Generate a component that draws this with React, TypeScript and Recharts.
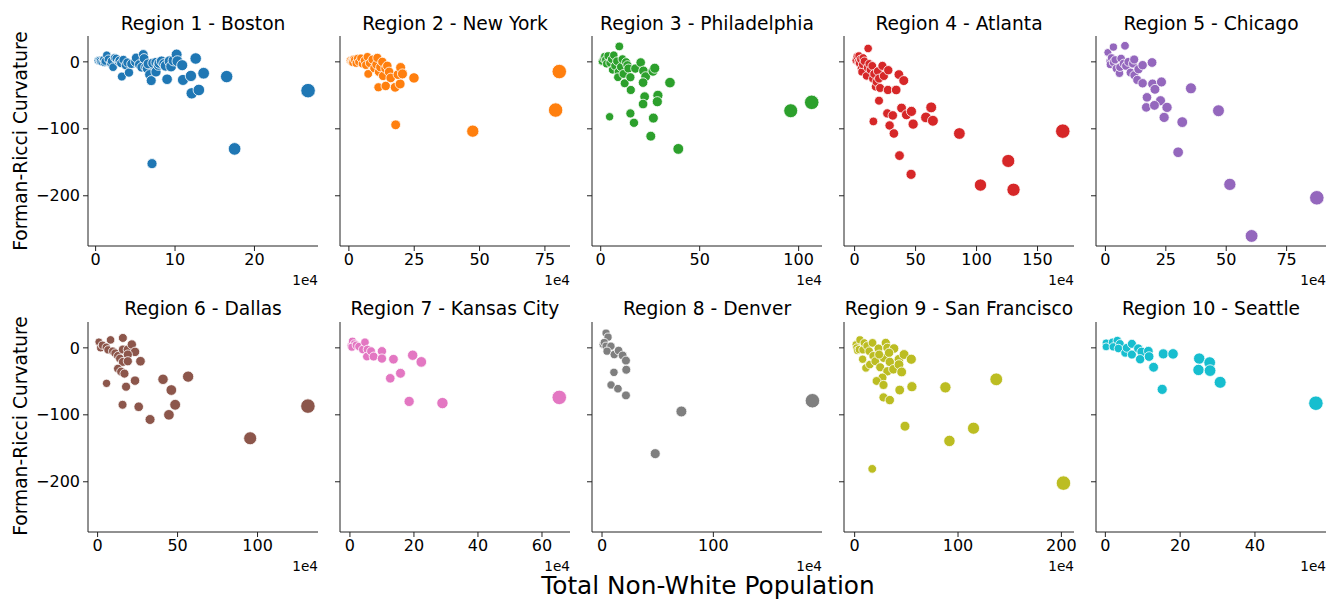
import React from "react";
import { ScatterChart, Scatter, XAxis, YAxis, ZAxis } from "recharts";

const regionNames = [
  "Region 1 - Boston",
  "Region 2 - New York",
  "Region 3 - Philadelphia",
  "Region 4 - Atlanta",
  "Region 5 - Chicago",
  "Region 6 - Dallas",
  "Region 7 - Kansas City",
  "Region 8 - Denver",
  "Region 9 - San Francisco",
  "Region 10 - Seattle",
];

const colors = ["#1f77b4", "#ff7f0e", "#2ca02c", "#d62728", "#9467bd", "#8c564b", "#e377c2", "#7f7f7f", "#bcbd22", "#17becf"];

// [population / 1e4, curvature]
const boston: [number, number][] = [
  [0.3, 2], [0.5, 2.5], [0.6, 1], [0.8, 0], [1.0, 3], [1.1, -1], [1.2, 1], [1.4, 10], [1.6, 4], [1.9, -2],
  [2.0, 1], [2.2, -8], [2.4, 6], [2.6, 5], [2.9, 0], [3.0, 2], [3.2, -2], [3.3, -22], [3.5, 3], [3.8, -5],
  [4.0, -1], [4.2, -16], [4.5, -3], [5.0, 0], [5.1, 6], [5.5, -4], [5.8, -8], [6.0, 11], [6.1, 5], [6.3, -8],
  [6.5, -10], [6.6, -3], [6.8, -19], [7.0, -28], [7.2, -2], [7.6, -1], [7.6, -15], [7.9, -5], [8.0, -2], [8.3, 1],
  [8.6, -3], [8.8, -6], [9.0, -26], [9.3, 1], [9.5, -7], [9.8, 2], [10.2, 11], [10.3, 1], [10.9, -5], [11.0, -27],
  [12.0, -21], [12.6, 5], [12.1, -47], [13.0, -42], [13.6, -17], [16.5, -22], [26.75, -43], [7.1, -152], [17.5, -130],
];

const newYork: [number, number][] = [
  [0.5, 2], [1.0, 1], [1.4, 1.5], [1.8, 4], [1.5, -1], [2.2, 3], [2.8, -2], [3.3, 5], [3.8, 0], [4.6, 5.5],
  [5.2, -3], [6.0, 2], [6.5, -5], [7.1, 7.5], [7.4, -18], [8.0, -2], [9.0, 3.5], [9.7, -9.5], [10.5, -4], [10.9, 6],
  [11.5, -15], [12.0, -8], [12.8, 0], [13.1, -21], [14.0, -10], [14.7, -6], [15.4, -15], [16.0, -24], [11.3, -38], [14.1, -36],
  [17.7, -38], [19.6, -33], [18.8, -19], [19.8, -8.5], [20.5, -18], [24.9, -24], [17.9, -94], [47.4, -103.5], [80.5, -14.5], [79.1, -72],
];

const philadelphia: [number, number][] = [
  [0.7, 0.7], [1.5, 5], [2.0, 8], [2.5, 3], [3.7, 9], [3.0, -3], [4.7, -1.5], [5.5, 4], [6.0, -12], [6.6, 10],
  [7.2, -6], [8.2, 1], [9.0, -15], [9.4, 23], [8.7, -23], [10.2, -7.5], [11.0, 4], [11.5, -18], [12.8, -0.5], [12.1, -32],
  [13.5, -5], [14.0, -10], [15.0, -23], [17.5, -10], [20.2, -1], [21.6, -13.5], [22.7, -22], [21.4, -31], [26.4, -14], [27.3, -9.5],
  [35.0, -31], [15.2, -42], [22.2, -52], [28.9, -50], [21.4, -63], [28.6, -59.5], [4.5, -82], [15.0, -77], [16.8, -91], [26.6, -84],
  [25.3, -111], [39.2, -130], [96.0, -73], [106.6, -60.5],
];

const atlanta: [number, number][] = [
  [1.1, 2], [2.0, 8], [3.0, 0], [3.5, 9], [4.0, -2], [5.0, 4], [5.5, -10], [6.0, -15], [6.5, -4], [7.0, 6],
  [8.0, 1], [9.8, -21], [10.6, -8.5], [11.1, 20], [12.0, -3], [13.0, -12], [14.5, -6], [15.0, -25], [16.0, -18], [17.3, -37],
  [18.0, -30], [19.1, -14], [20.0, -25], [20.9, -39], [22.8, -6], [24.0, -21], [27.6, -12.5], [27.3, -42], [34.1, -42], [36.3, -19],
  [40.3, -28], [20.0, -58], [38.5, -69], [26.8, -77], [31.3, -80], [42.5, -79], [46.6, -74], [28.7, -95], [15.4, -89], [48.0, -93],
  [32.2, -107], [58.5, -83], [62.8, -68], [64.2, -88], [36.8, -140], [46.3, -168], [85.9, -107], [103.2, -184], [126.0, -148], [130.3, -191],
  [170.7, -103.5],
];

const chicago: [number, number][] = [
  [1.0, 14], [3.3, 22], [8.1, 24], [1.9, 1], [2.0, -4], [2.5, 6], [3.3, -0.5], [4.0, 3], [4.5, -10], [5.8, -17],
  [6.0, -8], [6.5, 5], [7.5, -2.5], [8.5, -6], [9.5, 0], [10.4, -16], [11.4, -2.5], [11.9, 3.5], [12.0, -20], [13.7, -11],
  [15.4, -5], [19.3, -1], [13.2, -27], [15.4, -32], [19.5, -33], [23.2, -30], [20.5, -41], [17.2, -53], [22.8, -58], [16.9, -68],
  [20.3, -65], [25.5, -68], [24.3, -83], [31.8, -90], [35.4, -39.5], [46.8, -73], [30.1, -135], [51.5, -183], [87.5, -203], [60.5, -260],
];

const dallas: [number, number][] = [
  [0.8, 8.9], [1.9, 0], [3.0, 4], [5.4, 1], [6.5, -3], [8.1, 11.9], [9.5, -5], [11.0, -8], [12.7, -12], [14.0, -16],
  [15.8, 14.8], [15.8, -2.5], [18.9, -2.5], [21.4, 5], [23.4, -6], [18.9, -10], [15.8, -21], [18.9, -20], [26.8, -20], [12.7, -31],
  [14.7, -35.5], [16.8, -38.5], [23.4, -49], [5.6, -53], [17.8, -58], [15.6, -85], [25.7, -88], [32.8, -107], [40.9, -47], [46.1, -63],
  [48.5, -85], [44.6, -100], [56.6, -43], [95.4, -135], [131.5, -87],
];

const kansasCity: [number, number][] = [
  [0.3, 3], [0.8, 10], [1.4, 6], [0.6, 1], [2.0, 4], [2.8, 2], [4.0, -2.5], [4.7, 8.4], [5.5, -2.5], [5.3, -13],
  [6.6, -5], [7.4, -13], [10.0, -5], [10.0, -16], [13.6, -17], [19.6, -11], [22.3, -21], [15.8, -38], [12.6, -45.5], [18.5, -80],
  [28.9, -82.5], [65.4, -74],
];

const denver: [number, number][] = [
  [3.6, 22], [5.4, 16], [0.9, 5], [2.0, 8], [3.6, 2.5], [8.0, 2.5], [4.5, -5], [11.0, -10], [14.9, -4], [18.5, -11.4],
  [21.5, -19], [21.8, -32.7], [10.7, -36.6], [8.1, -55.4], [14.3, -61], [21.5, -71], [71.3, -95], [47.8, -158], [189.0, -79],
];

const sanFrancisco: [number, number][] = [
  [1.3, 5], [2.0, 0], [5.1, 12], [2.9, -4], [4.5, -2.5], [8.0, -3], [9.3, 7.4], [12.0, 3], [17.3, 7.4], [14.1, -5],
  [7.7, -17], [10.9, -30], [14.7, -25], [18.0, -12], [20.0, -20], [23.1, -1], [28.0, -15], [30.1, 7.4], [23.7, -10], [31.7, 0],
  [38.1, -1], [33.3, -7.4], [34.0, -21], [24.7, -29], [31.7, -35], [37.5, -32], [42.9, -17], [42.9, -25], [47.8, -10], [45.5, -36],
  [54.8, -17], [26.9, -44.5], [21.2, -49.5], [27.9, -55.4], [43.6, -63], [55.4, -58], [27.9, -74], [34.0, -78], [87.8, -59], [137.0, -47],
  [48.7, -117], [115.0, -120], [91.7, -139], [17.0, -180.7], [202.0, -202],
];

const seattle: [number, number][] = [
  [0.2, 7.4], [0.2, 1.5], [1.9, 8.4], [3.2, 10.9], [2.1, 1.5], [3.9, 6], [3.5, -1], [5.3, -7.4], [5.7, 0], [7.1, 6],
  [7.1, -10], [8.8, -1], [9.7, -6], [9.3, -17], [11.5, -5], [11.7, -13], [12.9, -29], [15.5, -9], [18.1, -9], [15.2, -62],
  [25.1, -16], [24.9, -33], [27.9, -22], [28.0, -34], [30.7, -51.5], [56.3, -82.7],
];

const regions = [boston, newYork, philadelphia, atlanta, chicago, dallas, kansasCity, denver, sanFrancisco, seattle];

const xDomains: [number, number][] = [
  [-0.96, 28.0], [-3.4, 84.6], [-4.4, 111.8], [-8.7, 179.9], [-3.9, 91.3],
  [-6.0, 137.8], [-3.1, 68.75], [-9.0, 197.6], [-10.3, 212.2], [-2.5, 59.0],
];
const xTicks = [
  [0, 10, 20], [0, 25, 50, 75], [0, 50, 100], [0, 50, 100, 150], [0, 25, 50, 75],
  [0, 50, 100], [0, 20, 40, 60], [0, 100], [0, 100, 200], [0, 20, 40],
];
const yTicks = [-200, -100, 0];
const yDomain: [number, number] = [-275, 38.6];

const FONT = "DejaVu Sans";
const COL_LEFT = [88, 340, 592, 844, 1096];
const ROW_TOP = [35.5, 321.5];
const PW = 230;
const PH = 210;
const YW = 88;
const MT = 10;
const MR = 12;
const XH = 40;

const tickStyle = { fill: "#000", fontSize: 16, fontFamily: FONT };
const minus = (v: number) => String(v).replace("-", "\u2212");

function Panel({ i }: { i: number }) {
  const col = i % 5;
  const row = Math.floor(i / 5);
  const data = regions[i].map(([x, y]) => ({ x, y }));
  const xs = regions[i].map((p) => p[0]);
  return (
    <div style={{ position: "absolute", left: COL_LEFT[col] - YW, top: ROW_TOP[row] - MT }}>
      <ScatterChart width={YW + PW + MR} height={MT + PH + XH} margin={{ top: MT, right: MR, bottom: 0, left: 0 }}>
        <XAxis
          type="number"
          dataKey="x"
          domain={xDomains[i]}
          ticks={xTicks[i]}
          allowDataOverflow
          interval={0}
          height={XH}
          tickSize={5}
          tickMargin={3}
          axisLine={{ stroke: "#222", strokeWidth: 1 }}
          tickLine={{ stroke: "#222", strokeWidth: 1 }}
          tick={tickStyle}
        />
        <YAxis
          type="number"
          dataKey="y"
          domain={yDomain}
          ticks={yTicks}
          allowDataOverflow
          interval={0}
          width={YW}
          tickSize={5}
          tickMargin={3}
          axisLine={{ stroke: "#222", strokeWidth: 1 }}
          tickLine={{ stroke: "#222", strokeWidth: 1 }}
          tick={tickStyle}
          tickFormatter={col === 0 ? minus : () => ""}
        />
        <ZAxis type="number" dataKey="x" domain={[Math.min(...xs), Math.max(...xs)]} range={[50, 165]} />
        <Scatter data={data} fill={colors[i]} stroke="#fff" strokeWidth={0.8} isAnimationActive={false} />
      </ScatterChart>
    </div>
  );
}

export default function App() {
  return (
    <div style={{ position: "absolute", left: 0, top: 0, width: 1327, height: 600, background: "#fff", overflow: "hidden" }}>
      {regions.map((_, i) => (
        <Panel key={i} i={i} />
      ))}
      <svg width={1327} height={600} style={{ position: "absolute", left: 0, top: 0, pointerEvents: "none" }} fontFamily={FONT}>
        {regionNames.map((name, i) => {
          const col = i % 5;
          const row = Math.floor(i / 5);
          return (
            <g key={name}>
              <text x={COL_LEFT[col] + PW / 2} y={row === 0 ? 29.5 : 315} textAnchor="middle" fontSize={18.67} fill="#000">
                {name}
              </text>
              <text x={COL_LEFT[col] + PW} y={row === 0 ? 284.5 : 570.5} textAnchor="end" fontSize={13.6} fill="#000">
                1e4
              </text>
            </g>
          );
        })}
        {[141, 426].map((cy) => (
          <text key={cy} transform={`translate(26.5, ${cy}) rotate(-90)`} textAnchor="middle" fontSize={18.67} fill="#000">
            Forman-Ricci Curvature
          </text>
        ))}
        <text x={708} y={594.3} textAnchor="middle" fontSize={24.8} fill="#000">
          Total Non-White Population
        </text>
      </svg>
    </div>
  );
}
